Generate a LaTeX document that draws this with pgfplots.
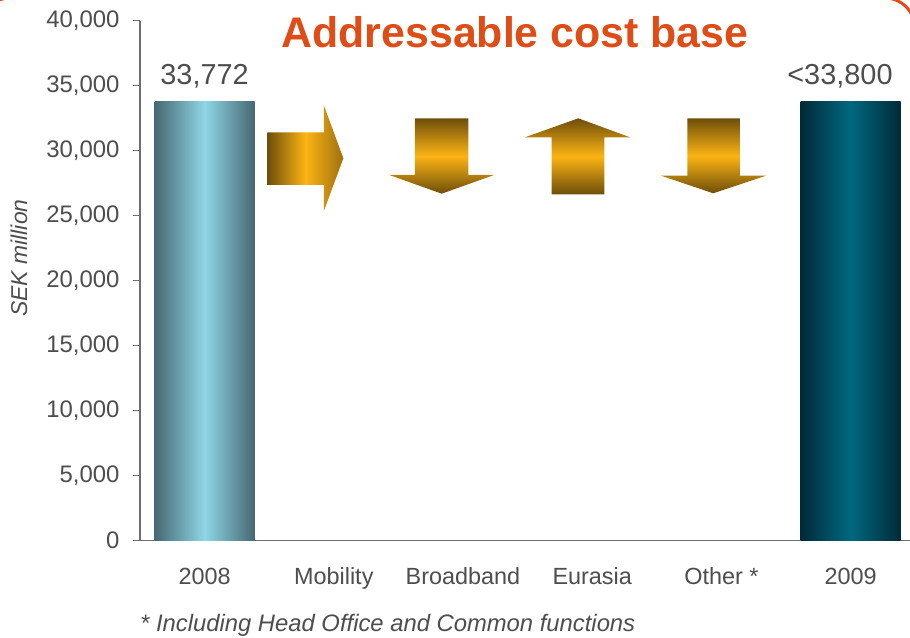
\documentclass[border=0pt]{standalone}
\usepackage{pgfplots}
\pgfplotsset{compat=1.18}
\usepackage{fontspec}
\setmainfont{Liberation Sans}
\definecolor{baredgeA}{RGB}{70,104,115}
\definecolor{barlightA}{RGB}{143,214,230}
\definecolor{baredgeB}{RGB}{0,42,56}
\definecolor{barmidB}{RGB}{0,104,128}
\definecolor{goldbright}{RGB}{252,180,20}
\definecolor{golddark}{RGB}{110,78,10}
\definecolor{goldmid}{RGB}{160,112,14}
\definecolor{titlecol}{RGB}{224,76,22}
\definecolor{textgray}{RGB}{77,77,77}
\definecolor{axisgray}{RGB}{110,110,110}
\begin{document}
\begin{tikzpicture}[x=1bp,y=1bp]
\path[use as bounding box] (0,0) rectangle (910,638);
% slide frame (decorative)
\draw[titlecol, line width=3bp, rounded corners=30bp] (-20,-20) rectangle (915,640);
\begin{axis}[
  at={(140bp,97.3bp)}, anchor=south west,
  scale only axis, width=770bp, height=520bp,
  xmin=-0.5, xmax=5.46, ymin=0, ymax=40000,
  axis x line=bottom, axis y line=left,
  axis line style={-, axisgray, line width=1.3bp},
  xtick={0,1,2,3,4,5},
  xticklabels={2008,Mobility,Broadband,Eurasia,Other *,2009},
  x tick style={draw=none},
  extra x ticks={-0.5,0.5,1.5,2.5,3.5,4.5},
  extra x tick labels={},
  extra x tick style={tick style={draw=axisgray, line width=1.3bp}, major tick length=7bp, tick align=outside},
  ytick={0,5000,...,40000},
  scaled y ticks=false,
  y tick style={draw=axisgray, line width=1.3bp},
  major tick length=7bp, tick align=outside,
  /pgf/number format/assume math mode=true,
  /pgf/number format/.cd, 1000 sep={,},
  /pgfplots/.cd,
  ticklabel style={text=textgray},
  xticklabel style={font=\fontsize{23.5}{27}\selectfont, text height=17bp, text depth=5bp, yshift=-16bp},
  yticklabel style={font=\fontsize{24}{28}\selectfont, xshift=-10bp},
  clip=false,
]
% bars
\addplot[ybar, bar width=100bp, bar shift=0pt, draw=none,
  left color=baredgeA, right color=baredgeA, middle color=barlightA]
  coordinates {(0,33772)};
\addplot[ybar, bar width=100bp, bar shift=0pt, draw=none,
  left color=baredgeB, right color=baredgeB, middle color=barmidB]
  coordinates {(5,33800)};
% Mobility: right arrow
\addplot[draw=none, left color=golddark, right color=goldmid, middle color=goldbright]
  coordinates {(0.485,31415) (0.924,31415) (0.924,33462) (1.074,29415)
               (0.924,25385) (0.924,27362) (0.485,27362)} -- cycle;
% Broadband: down arrow
\addplot[draw=none, top color=golddark, bottom color=golddark, middle color=goldbright]
  coordinates {(1.628,32492) (2.041,32492) (2.041,28131) (2.241,28131)
               (1.835,26692) (1.430,28131) (1.628,28131)} -- cycle;
% Eurasia: up arrow
\addplot[draw=none, top color=golddark, bottom color=golddark, middle color=goldbright]
  coordinates {(2.686,26646) (3.094,26646) (3.094,31031) (3.293,31031)
               (2.893,32492) (2.480,31031) (2.686,31031)} -- cycle;
% Other: down arrow
\addplot[draw=none, top color=golddark, bottom color=golddark, middle color=goldbright]
  coordinates {(3.736,32492) (4.144,32492) (4.144,28077) (4.345,28077)
               (3.937,26723) (3.533,28077) (3.736,28077)} -- cycle;
\node[anchor=base, text=textgray, font=\fontsize{29}{33}\selectfont]
  at (axis cs:0,33772) [yshift=17bp] {33,772};
\node[anchor=base, text=textgray, font=\fontsize{29}{33}\selectfont]
  at (axis cs:4.918,33800) [yshift=17bp] {<33,800};
\end{axis}
\node[anchor=base, text=titlecol, font=\fontsize{43}{48}\selectfont\bfseries] at (515,590) {Addressable cost base};
\node[rotate=90, text=textgray, font=\fontsize{23}{27}\selectfont\itshape] at (19,380) {SEK million};
\node[anchor=base west, inner sep=0pt, text=textgray, font=\fontsize{23.9}{27}\selectfont\itshape] at (140,6) {* Including Head Office and Common functions};
\end{tikzpicture}
\end{document}
